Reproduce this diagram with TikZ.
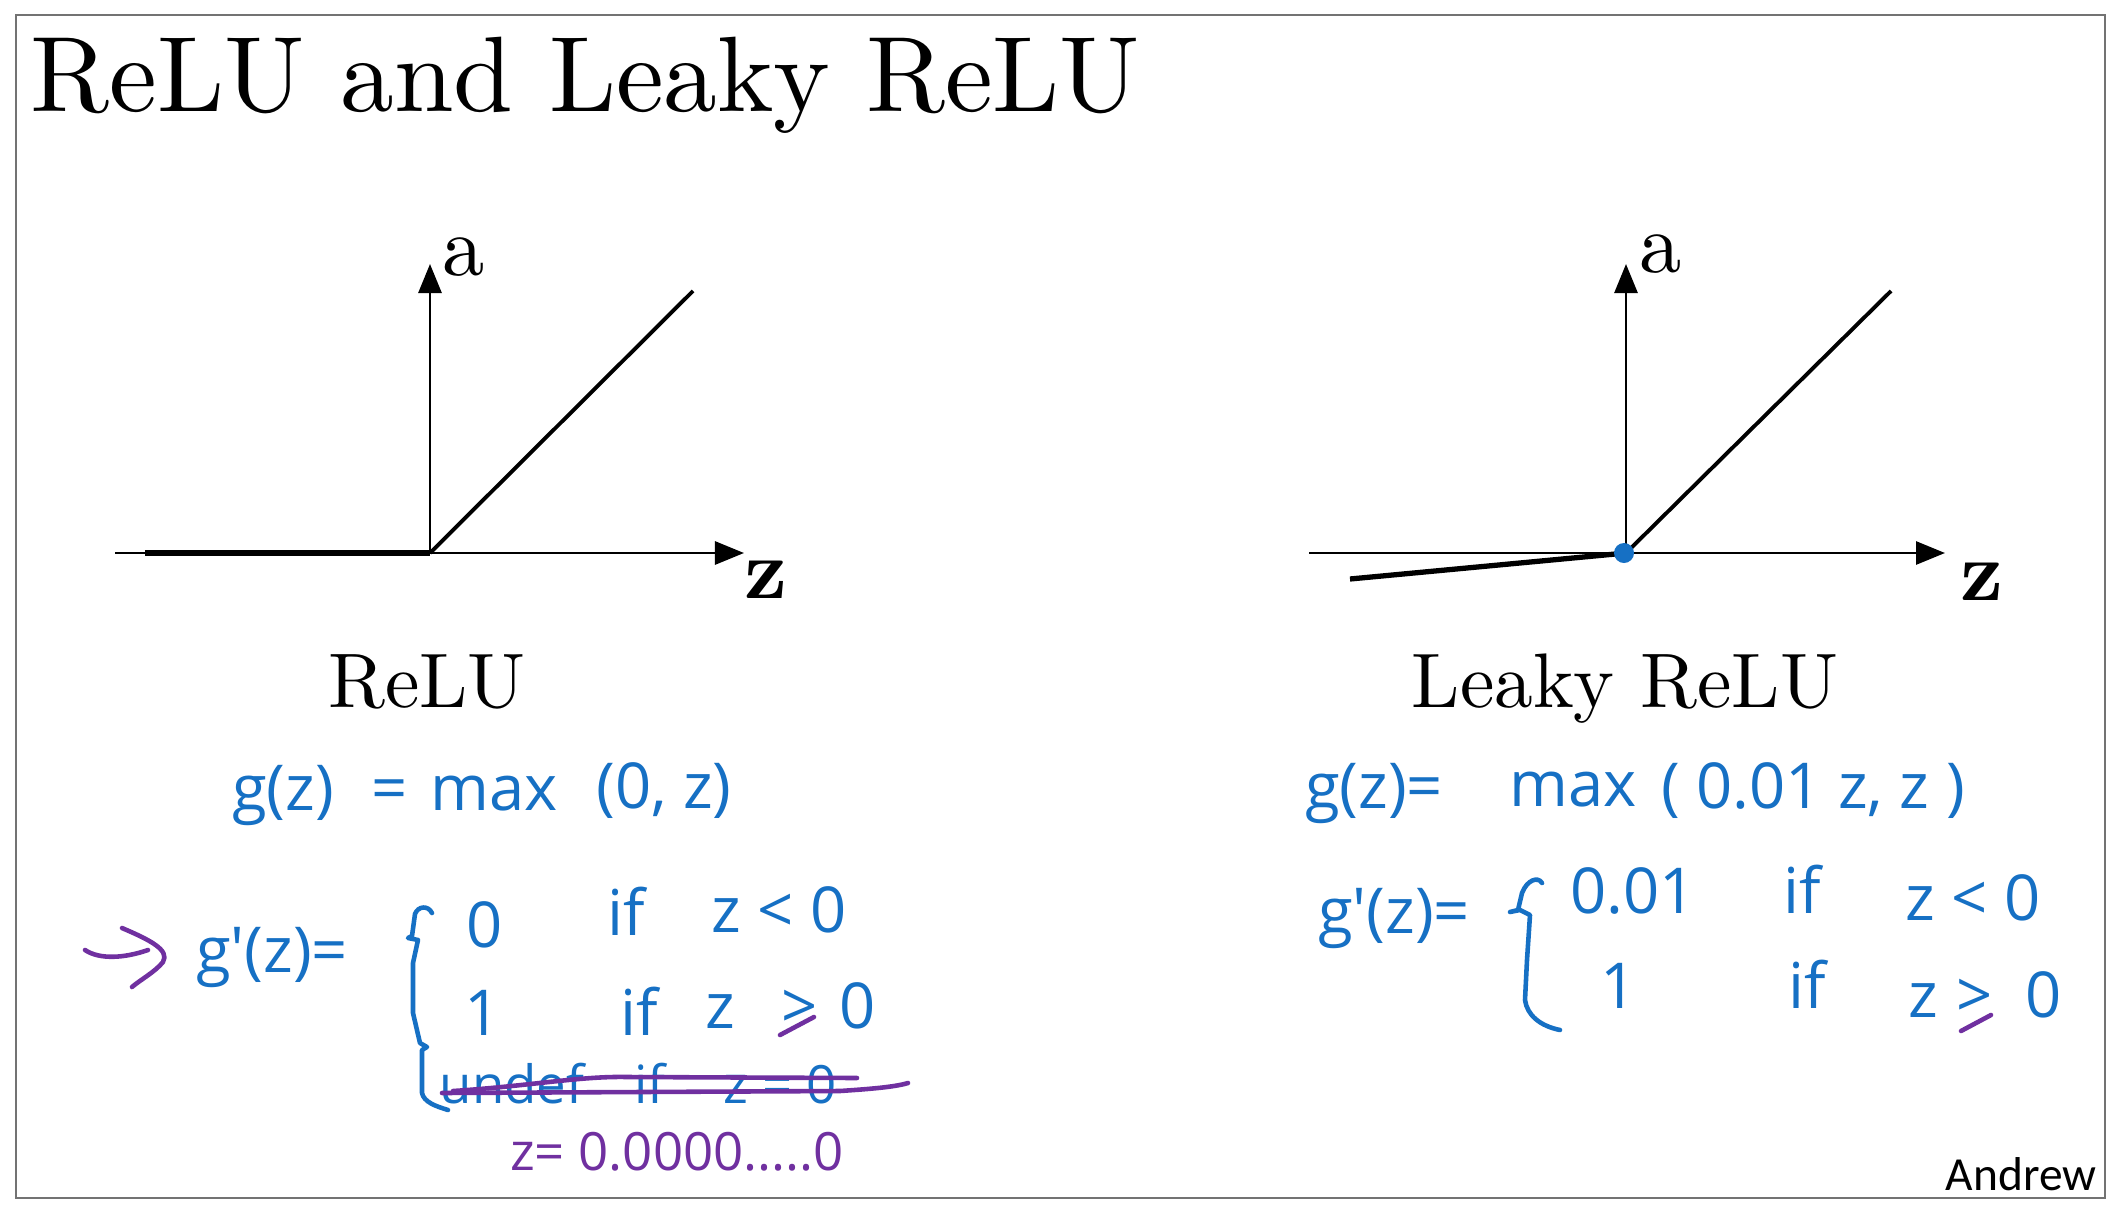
\documentclass[tikz,border=0pt]{standalone}
\usepackage{fontspec}
\usetikzlibrary{arrows.meta}
\newfontfamily\handfont{Open Sans}
\newfontfamily\andrewfont{Carlito}
\newfontfamily\lmten{lmroman10-regular.otf}[BoldFont=lmroman10-bold.otf]
\definecolor{inkblue}{RGB}{22,112,196}
\definecolor{inkpurple}{RGB}{112,48,160}
\tikzset{
  axisline/.style={line width=0.8pt, -{Triangle[length=0.29cm,width=0.23cm]}},
  funcline/.style={line width=1.1pt},
  hb/.style={text=inkblue, font=\handfont\fontsize{18}{20}\selectfont, inner sep=0pt, anchor=base},
  hbs/.style={text=inkblue, font=\handfont\fontsize{15}{17}\selectfont, inner sep=0pt, anchor=base},
  hp/.style={text=inkpurple, font=\handfont\fontsize{15}{17}\selectfont, inner sep=0pt, anchor=base},
  inkb/.style={draw=inkblue, line width=1.3pt, line cap=round, line join=round},
  inkp/.style={draw=inkpurple, line width=1.3pt, line cap=round, line join=round},
  axlabel/.style={font=\lmten\fontsize{24}{28}\selectfont, inner sep=0pt},
  axlabelbold/.style={font=\lmten\bfseries\fontsize{24}{28}\selectfont, inner sep=0pt},
  plotname/.style={font=\lmten\fontsize{22}{26}\selectfont, inner sep=0pt, anchor=base}
}
\begin{document}
\begin{tikzpicture}[x=0.01cm,y=-0.01cm]
\useasboundingbox (0,0) rectangle (2121,1215);
\fill[white] (0,0) rectangle (2121,1215);
\draw[black!55, line width=0.8pt] (16,15) rectangle (2105,1198);

% title
\node[anchor=base west, inner sep=0pt, font=\lmten\fontsize{30.5}{36}\selectfont] (title) at (30,111) {ReLU and Leaky ReLU};

% left plot
\coordinate (O1) at (430,553);
\coordinate (Y1) at (430,264);
\coordinate (XL1) at (115,553);
\coordinate (XR1) at (744,553);
\coordinate (F1) at (145,553);
\coordinate (D1) at (693,291);
\draw[axisline] (O1) -- (Y1);
\draw[axisline] (XL1) -- (XR1);
\draw[line width=1.7pt] (F1) -- (O1);
\draw[funcline] (O1) -- (D1);
\node[axlabel] (a1) at (464,257) {a};
\node[axlabelbold] (z1) at (766,580) {z};
\node[plotname] (relu) at (427,707) {ReLU};

% right plot
\coordinate (O2) at (1626,553);
\coordinate (Y2) at (1626,264);
\coordinate (XL2) at (1309,553);
\coordinate (XR2) at (1945,553);
\coordinate (F2) at (1350,579);
\coordinate (D2) at (1891,291);
\draw[axisline] (O2) -- (Y2);
\draw[axisline] (XL2) -- (XR2);
\draw[line width=1.5pt] (F2) -- (O2);
\draw[funcline] (O2) -- (D2);
\node[circle, fill=inkblue, inner sep=0pt, minimum size=0.2cm] (dot) at (1624,553) {};
\node[axlabel] (a2) at (1661,254) {a};
\node[axlabelbold] (z2) at (1982,582) {z};
\node[plotname] (leaky) at (1625,707) {Leaky ReLU};

% left handwriting
\node[hb] (lg) at (283,810) {g(z)};
\node[hb] (leq) at (390,810) {=};
\node[hb] (lmax) at (494,810) {max};
\node[hb] (larg) at (664,808) {(0, z)};
\node[hb] (ldg) at (272,972) {g'(z)=};
\node[hb] (lr1v) at (485,947) {0};
\node[hb] (lr1if) at (626,935) {if};
\node[hb] (lr1c) at (779,932) {z < 0};
\node[hb] (lr2v) at (483,1035) {1};
\node[hb] (lr2if) at (639,1035) {if};
\node[hb] (lr2z) at (720,1028) {z};
\node[hb] (lr2gt) at (800,1028) {>};
\node[hb] (lr2o) at (858,1028) {0};
\node[hbs] (lr3v) at (512,1103) {undef};
\node[hbs] (lr3if) at (650,1103) {if};
\node[hbs] (lr3c) at (780,1103) {z = 0};
\node[hp] (lnote) at (677,1170) {z= 0.0000.....0};

% left brace
\draw[inkb] (432,913) .. controls (428,905) and (418,906) .. (415,914)
  -- (412,936) -- (408,938) -- (418,940) -- (413,963) -- (413,1013)
  -- (420,1043) -- (427,1047) -- (422,1050) -- (422,1093)
  .. controls (424,1102) and (435,1106) .. (448,1110);

% purple arrow
\draw[inkp] (85,950) .. controls (100,960) and (125,958) .. (148,950);
\draw[inkp] (122,928) .. controls (150,940) and (170,950) .. (163,962) .. controls (155,972) and (140,980) .. (132,987);

% purple underline for >=
\draw[inkp] (780,1035) -- (814,1017);

% strike-through
\draw[inkp] (442,1093) -- (840,1091) .. controls (870,1089) and (895,1087) .. (908,1083);
\draw[inkp] (453,1091) .. controls (530,1086) and (580,1076) .. (627,1077) -- (857,1078);

% right handwriting
\node[hb] (rg) at (1374,808) {g(z)=};
\node[hb] (rmax) at (1573,806) {max};
\node[hb] (rarg) at (1813,808) {( 0.01 z,  z )};
\node[hb] (rdg) at (1394,933) {g'(z)=};
\node[hb] (rr1v) at (1633,913) {0.01};
\node[hb] (rr1if) at (1802,913) {if};
\node[hb] (rr1c) at (1973,920) {z < 0};
\node[hb] (rr2v) at (1619,1008) {1};
\node[hb] (rr2if) at (1807,1008) {if};
\node[hb] (rr2z) at (1923,1017) {z};
\node[hb] (rr2gt) at (1975,1017) {>};
\node[hb] (rr2o) at (2044,1017) {0};

% right brace
\draw[inkb] (1542,883) .. controls (1538,876) and (1527,880) .. (1522,893)
  -- (1518,910) -- (1510,912) -- (1520,910) -- (1530,915)
  -- (1527,960) -- (1525,1000)
  .. controls (1527,1015) and (1540,1026) .. (1560,1030);

\draw[inkp] (1961,1031) -- (1991,1015);

% signature
\node[anchor=base east, inner sep=0pt, font=\andrewfont\fontsize{13.5}{16}\selectfont] (andrew) at (2097,1190) {Andrew};
\end{tikzpicture}
\end{document}
